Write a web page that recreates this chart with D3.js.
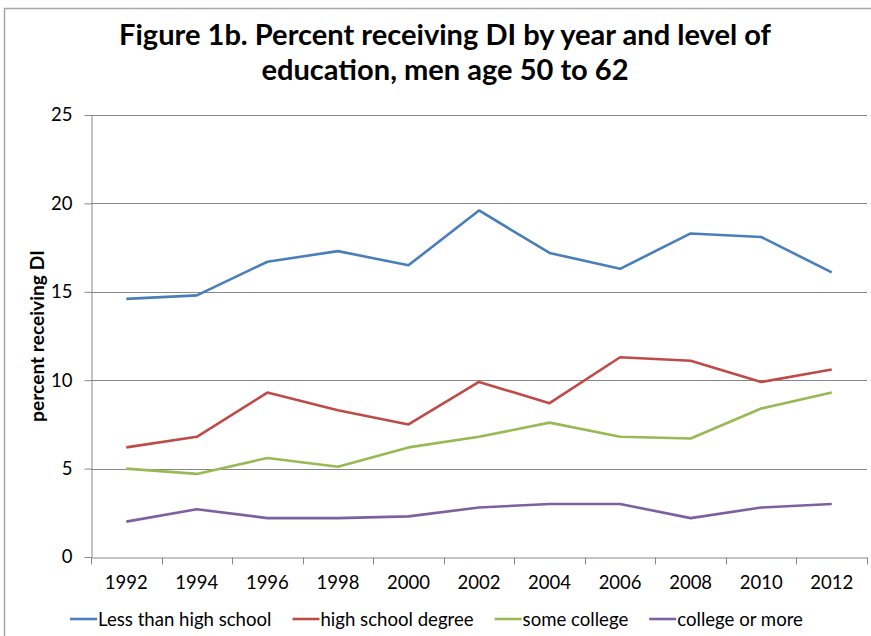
<!DOCTYPE html>
<html>
<head>
<meta charset="utf-8">
<script src="https://cdn.jsdelivr.net/npm/d3@7"></script>
<style>
  html, body { margin: 0; padding: 0; background: #ffffff; }
  svg { display: block; }
  text { font-family: Lato, "Open Sans", "Liberation Sans", sans-serif; fill: #000; }
</style>
</head>
<body>
<svg id="chart" width="871" height="636"></svg>
<script>
// ---- data ----
const years = ["1992","1994","1996","1998","2000","2002","2004","2006","2008","2010","2012"];
const lessThanHS   = [14.6, 14.8, 16.7, 17.3, 16.5, 19.6, 17.2, 16.3, 18.3, 18.1, 16.1];
const hsDegree     = [6.2, 6.8, 9.3, 8.3, 7.5, 9.9, 8.7, 11.3, 11.1, 9.9, 10.6];
const someCollege  = [5.0, 4.7, 5.6, 5.1, 6.2, 6.8, 7.6, 6.8, 6.7, 8.4, 9.3];
const collegeMore  = [2.0, 2.7, 2.2, 2.2, 2.3, 2.8, 3.0, 3.0, 2.2, 2.8, 3.0];
const seriesNames  = ["Less than high school", "high school degree", "some college", "college or more"];
const seriesColors = ["#4A7EBB", "#BE4B48", "#98B954", "#7D60A0"];
const yTicks = [0, 5, 10, 15, 20, 25];
const titleLines = ["Figure 1b. Percent receiving DI by year and level of", "education, men age 50 to 62"];
const yAxisTitle = "percent receiving DI";

const seriesValues = [lessThanHS, hsDegree, someCollege, collegeMore];

const svg = d3.select("#chart");

// frame
svg.append("rect")
  .attr("x", 4.5).attr("y", 8.5).attr("width", 900).attr("height", 700)
  .attr("fill", "none").attr("stroke", "#a6a6a6").attr("stroke-width", 1.5);

const plotLeft = 91, plotRight = 867, plotTop = 115, plotBottom = 557;

const x = d3.scaleBand().domain(years).range([plotLeft, plotRight]).paddingInner(0).paddingOuter(0);
const y = d3.scaleLinear().domain([0, 25]).range([plotBottom, plotTop]);

// gridlines
svg.append("g").selectAll("line").data(yTicks.filter(d => d > 0)).join("line")
  .attr("x1", plotLeft).attr("x2", plotRight)
  .attr("y1", d => Math.round(y(d)) + 0.5).attr("y2", d => Math.round(y(d)) + 0.5)
  .attr("stroke", "#878787").attr("stroke-width", 1);

// y axis
const yAxis = svg.append("g").attr("transform", `translate(${plotLeft + 0.5},0)`)
  .call(d3.axisLeft(y).tickValues(yTicks).tickSize(7).tickPadding(12).tickSizeOuter(0));
yAxis.select(".domain").attr("stroke", "#878787");
yAxis.selectAll(".tick line").attr("stroke", "#878787");
yAxis.selectAll(".tick text").style("font-size", "18.5px").attr("fill", "#000")
  .style("font-family", "Lato, 'Open Sans', sans-serif");

// x axis: labels at band centres, ticks at band boundaries
const xAxis = svg.append("g").attr("transform", `translate(0,${plotBottom + 0.5})`)
  .call(d3.axisBottom(x).tickSize(0).tickPadding(18).tickSizeOuter(0));
xAxis.select(".domain").attr("stroke", "#878787");
xAxis.selectAll(".tick text").style("font-size", "18.5px").attr("fill", "#000")
  .style("font-family", "Lato, 'Open Sans', sans-serif");
const boundaries = years.map(d => x(d)).concat([x(years[years.length - 1]) + x.bandwidth()]);
xAxis.append("g").selectAll("line").data(boundaries).join("line")
  .attr("x1", d => Math.round(d) + 0.5).attr("x2", d => Math.round(d) + 0.5)
  .attr("y1", 0).attr("y2", 7)
  .attr("stroke", "#878787");

// lines
const line = d3.line()
  .x((d, i) => x(years[i]) + x.bandwidth() / 2)
  .y(d => y(d));
svg.append("g").selectAll("path").data(seriesValues).join("path")
  .attr("d", d => line(d))
  .attr("fill", "none")
  .attr("stroke", (d, i) => seriesColors[i])
  .attr("stroke-width", 2.6)
  .attr("stroke-linejoin", "round");

// title
function fitText(sel, target) {
  const w = sel.node().getComputedTextLength();
  const fs = parseFloat(sel.style("font-size"));
  sel.style("font-size", (fs * target / w) + "px");
}
const t1 = svg.append("text").attr("x", 445).attr("y", 45).attr("text-anchor", "middle")
  .style("font-weight", "bold").style("font-size", "24px").text(titleLines[0]);
fitText(t1, 652);
const fsTitle = t1.style("font-size");
svg.append("text").attr("x", 445).attr("y", 80).attr("text-anchor", "middle")
  .style("font-weight", "bold").style("font-size", fsTitle).text(titleLines[1]);

// y axis title
const yt = svg.append("text")
  .attr("transform", "translate(44,336) rotate(-90)")
  .attr("text-anchor", "middle")
  .style("font-weight", "bold").style("font-size", "16px")
  .text(yAxisTitle);
fitText(yt, 172);

// legend
const legend = svg.append("g");
const legendFont = 18.6;
let cx = 0;
seriesNames.forEach((name, i) => {
  const g = legend.append("g");
  g.append("line").attr("x1", 0).attr("x2", 27).attr("y1", 0).attr("y2", 0)
    .attr("stroke", seriesColors[i]).attr("stroke-width", 2.6);
  const t = g.append("text").attr("x", 28).attr("y", 6.5)
    .style("font-size", legendFont + "px").text(name);
  const w = 28 + t.node().getComputedTextLength();
  g.attr("transform", `translate(${cx},0)`);
  cx += w + 21;
});
const totalW = cx - 21;
legend.attr("transform", `translate(${436.5 - totalW / 2},619)`);
</script>
</body>
</html>
